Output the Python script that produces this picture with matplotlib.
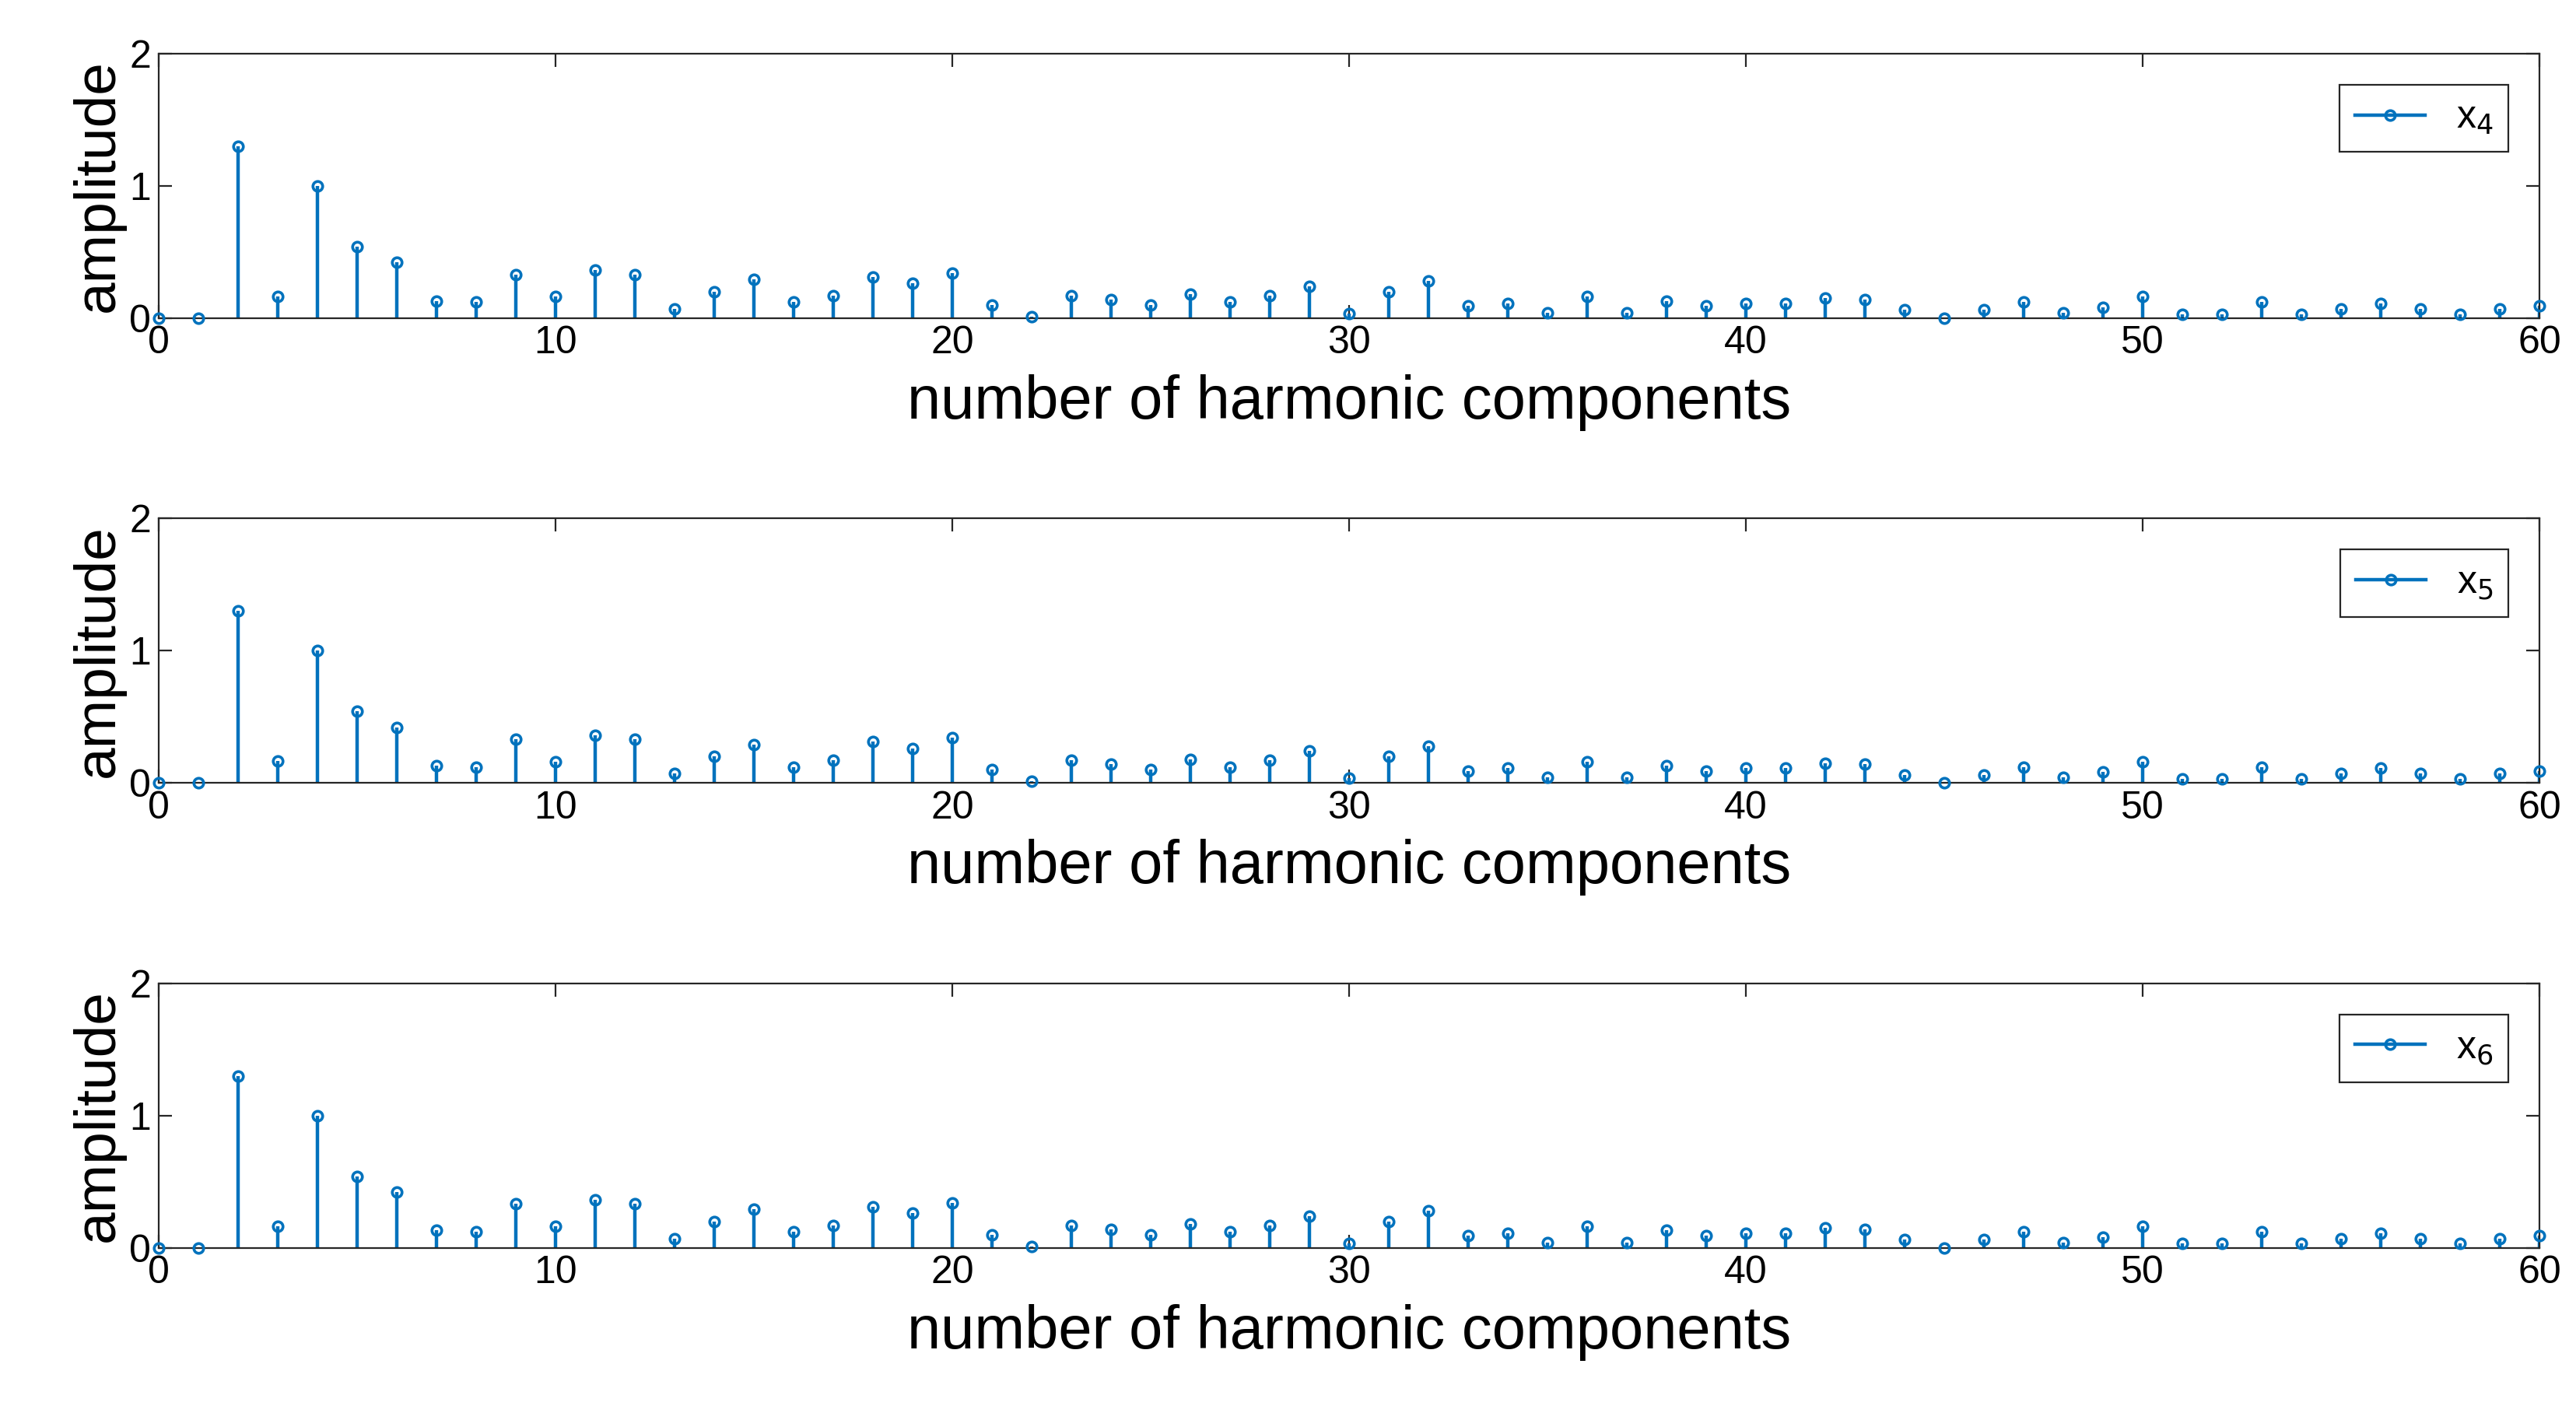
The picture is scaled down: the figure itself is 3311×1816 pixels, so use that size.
import numpy as np
import matplotlib
matplotlib.use('Agg')
from matplotlib import pyplot as plt
from matplotlib.lines import Line2D

plt.rcParams['font.family'] = ['Liberation Sans', 'DejaVu Sans']

# harmonic amplitudes (same in all three panels)
harmonics = np.arange(0, 61)
amplitude = [0.0, 0.0, 1.3, 0.165, 1.0, 0.54, 0.42, 0.13, 0.12, 0.33,
             0.16, 0.36, 0.33, 0.07, 0.2, 0.29, 0.12, 0.17, 0.31, 0.26,
             0.34, 0.1, 0.01, 0.17, 0.14, 0.1, 0.18, 0.12, 0.17, 0.24,
             0.035, 0.2, 0.28, 0.09, 0.11, 0.04, 0.16, 0.04, 0.13, 0.09,
             0.11, 0.11, 0.15, 0.14, 0.06, 0.0, 0.06, 0.12, 0.04, 0.08,
             0.16, 0.03, 0.03, 0.12, 0.03, 0.07, 0.11, 0.07, 0.03, 0.07,
             0.09]
series_names = ['x$_4$', 'x$_5$', 'x$_6$']

color = '#0072BD'
fig = plt.figure(figsize=(16.56, 9.08), dpi=200)
bottoms = [0.775, 0.446, 0.117]

for b, name in zip(bottoms, series_names):
    ax = fig.add_axes([0.0616, b, 0.924, 0.187])
    ml, sl, bl = ax.stem(harmonics, amplitude, linefmt='-', markerfmt='o',
                         basefmt=' ')
    plt.setp(sl, color=color, linewidth=1.6)
    plt.setp(ml, color=color, markerfacecolor='none', markersize=4.5,
             markeredgewidth=1.3, clip_on=False, zorder=3)
    ax.axhline(0, color='#262626', linewidth=1.0, zorder=0)
    ax.set_xlim(0, 60)
    ax.set_ylim(0, 2)
    ax.set_xticks([0, 10, 20, 30, 40, 50, 60])
    ax.set_yticks([0, 1, 2])
    ax.tick_params(direction='in', top=True, right=True, labelsize=18,
                   length=6, width=0.8, colors='#262626', labelcolor='black')
    for s in ax.spines.values():
        s.set_color('#262626')
        s.set_linewidth(0.8)
    ax.set_xlabel('number of harmonic components', fontsize=28, labelpad=6)
    ax.set_ylabel('amplitude', fontsize=27, labelpad=2)
    handle = Line2D([], [], color=color, linewidth=1.6, marker='o',
                    markerfacecolor='none', markersize=4.5,
                    markeredgewidth=1.3, markevery=[1])
    leg = ax.legend([handle], [name], loc='upper right', fontsize=18,
                    fancybox=False, edgecolor='#262626', handlelength=1.8,
                    borderaxespad=0.8, framealpha=1)
    leg.get_frame().set_linewidth(0.8)

fig.savefig('out.png', dpi=200)
